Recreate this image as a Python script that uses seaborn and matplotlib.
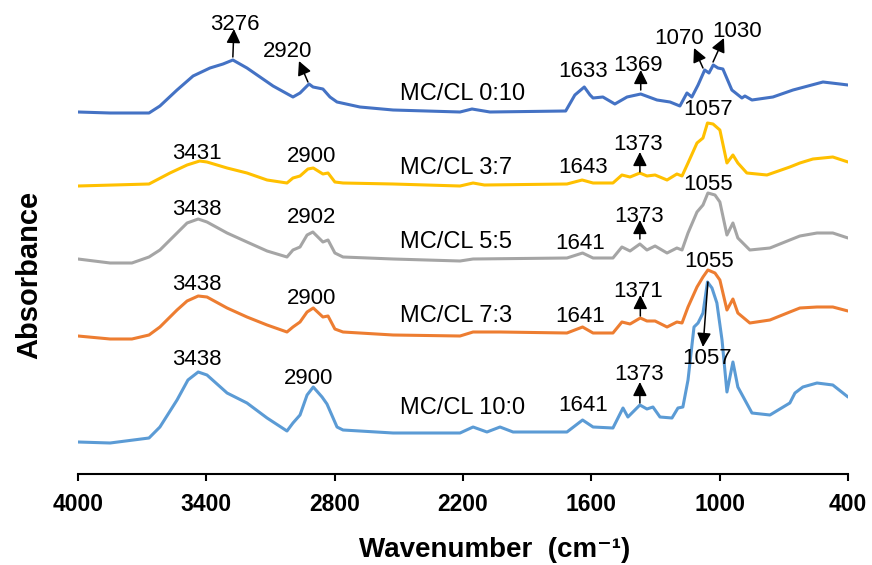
import matplotlib
matplotlib.use("Agg")
import matplotlib.pyplot as plt
import numpy as np
import pandas as pd
import seaborn as sns

# FTIR spectra (wavenumber in cm-1, relative absorbance above each trace's own baseline)
wn_0_10 = [4000, 3850, 3668, 3617, 3537, 3462, 3383, 3322, 3276, 3210,
           3149, 3088, 2995, 2962, 2920, 2901, 2855, 2822, 2789, 2682,
           2527, 2214, 2158, 2074, 1720, 1677, 1633, 1606, 1592, 1546,
           1490, 1433, 1369, 1293, 1232, 1186, 1153, 1130, 1101, 1070,
           1050, 1030, 1008, 985, 943, 896, 882, 849, 751, 657,
           517, 438, 400]
ab_0_10 = [0.00, -0.01, -0.01, 0.06, 0.22, 0.36, 0.44, 0.48, 0.52, 0.44,
           0.35, 0.26, 0.15, 0.19, 0.28, 0.25, 0.23, 0.15, 0.10, 0.05,
           0.02, 0.00, 0.03, 0.00, 0.01, 0.17, 0.25, 0.17, 0.14, 0.15,
           0.08, 0.15, 0.18, 0.12, 0.10, 0.06, 0.19, 0.15, 0.27, 0.42,
           0.39, 0.47, 0.44, 0.43, 0.22, 0.14, 0.16, 0.12, 0.15, 0.22,
           0.30, 0.28, 0.27]

wn_3_7 = [4000, 3668, 3570, 3490, 3431, 3397, 3303, 3210, 3116, 3023,
          2995, 2962, 2925, 2900, 2855, 2831, 2799, 2761, 2527, 2214,
          2153, 2100, 1714, 1643, 1592, 1499, 1457, 1419, 1373, 1340,
          1302, 1246, 1200, 1176, 1148, 1106, 1078, 1057, 1031, 999,
          966, 938, 915, 873, 779, 672, 625, 564, 471, 400]
ab_3_7 = [0.00, 0.02, 0.13, 0.21, 0.25, 0.24, 0.18, 0.13, 0.06, 0.03,
          0.08, 0.10, 0.17, 0.18, 0.12, 0.13, 0.04, 0.03, 0.02, 0.00,
          0.03, 0.01, 0.02, 0.06, 0.03, 0.03, 0.11, 0.09, 0.13, 0.10,
          0.11, 0.06, 0.12, 0.10, 0.23, 0.43, 0.48, 0.63, 0.62, 0.56,
          0.23, 0.31, 0.23, 0.13, 0.11, 0.19, 0.23, 0.27, 0.29, 0.24]

wn_5_5 = [4000, 3850, 3748, 3668, 3617, 3537, 3490, 3438, 3397, 3303,
          3210, 3116, 3023, 2995, 2962, 2929, 2902, 2855, 2831, 2799,
          2761, 2527, 2214, 2153, 1714, 1641, 1592, 1499, 1457, 1419,
          1373, 1340, 1302, 1246, 1200, 1176, 1148, 1106, 1078, 1055,
          1022, 999, 966, 938, 915, 859, 765, 672, 625, 545,
          471, 400]
ab_5_5 = [0.00, -0.04, -0.04, 0.02, 0.09, 0.26, 0.36, 0.40, 0.37, 0.26,
          0.17, 0.08, 0.02, 0.09, 0.12, 0.24, 0.27, 0.17, 0.19, 0.06,
          0.02, 0.00, -0.02, 0.00, 0.01, 0.06, 0.01, 0.01, 0.12, 0.08,
          0.15, 0.09, 0.13, 0.06, 0.11, 0.09, 0.26, 0.47, 0.54, 0.66,
          0.64, 0.57, 0.24, 0.36, 0.21, 0.09, 0.11, 0.19, 0.23, 0.26,
          0.26, 0.21]

wn_7_3 = [4000, 3850, 3748, 3668, 3617, 3537, 3490, 3438, 3397, 3303,
          3210, 3116, 3023, 2995, 2962, 2929, 2900, 2855, 2831, 2799,
          2761, 2527, 2214, 2153, 2027, 1714, 1641, 1592, 1499, 1457,
          1419, 1371, 1340, 1302, 1246, 1200, 1176, 1148, 1106, 1078,
          1055, 1022, 999, 966, 938, 915, 859, 765, 672, 625,
          545, 471, 400]
ab_7_3 = [0.00, -0.03, -0.03, 0.01, 0.09, 0.26, 0.35, 0.40, 0.39, 0.28,
          0.19, 0.11, 0.04, 0.09, 0.14, 0.24, 0.28, 0.19, 0.20, 0.07,
          0.04, 0.01, 0.00, 0.04, 0.04, 0.03, 0.09, 0.03, 0.03, 0.14,
          0.12, 0.18, 0.15, 0.15, 0.09, 0.14, 0.13, 0.29, 0.49, 0.59,
          0.66, 0.63, 0.56, 0.26, 0.37, 0.23, 0.13, 0.16, 0.24, 0.28,
          0.29, 0.29, 0.25]

wn_10_0 = [4000, 3850, 3668, 3617, 3537, 3486, 3438, 3397, 3303, 3210,
           3116, 3023, 2995, 2962, 2929, 2900, 2859, 2836, 2789, 2761,
           2527, 2214, 2153, 2088, 2027, 1966, 1714, 1641, 1592, 1499,
           1452, 1429, 1373, 1340, 1312, 1279, 1223, 1195, 1172, 1148,
           1120, 1101, 1078, 1057, 1036, 1013, 989, 966, 938, 915,
           882, 849, 765, 672, 648, 611, 545, 471, 400]
ab_10_0 = [0.00, -0.01, 0.04, 0.15, 0.42, 0.62, 0.70, 0.67, 0.49, 0.39,
           0.24, 0.11, 0.19, 0.27, 0.47, 0.55, 0.45, 0.38, 0.15, 0.12,
           0.09, 0.09, 0.15, 0.10, 0.15, 0.10, 0.10, 0.22, 0.15, 0.14,
           0.34, 0.25, 0.37, 0.33, 0.35, 0.25, 0.24, 0.34, 0.35, 0.62,
           1.15, 1.19, 1.29, 1.60, 1.54, 1.39, 1.02, 0.50, 0.80, 0.55,
           0.42, 0.29, 0.27, 0.39, 0.49, 0.55, 0.59, 0.57, 0.45]

samples = ["MC/CL 0:10", "MC/CL 3:7", "MC/CL 5:5", "MC/CL 7:3", "MC/CL 10:0"]
spectra = {
    "MC/CL 0:10": (wn_0_10, ab_0_10),
    "MC/CL 3:7": (wn_3_7, ab_3_7),
    "MC/CL 5:5": (wn_5_5, ab_5_5),
    "MC/CL 7:3": (wn_7_3, ab_7_3),
    "MC/CL 10:0": (wn_10_0, ab_10_0),
}
x_ticks = [4000, 3400, 2800, 2200, 1600, 1000, 400]

# vertical stacking of the traces
stack_offset = {"MC/CL 0:10": 3.62, "MC/CL 3:7": 2.88, "MC/CL 5:5": 2.15,
                "MC/CL 7:3": 1.38, "MC/CL 10:0": 0.32}
colors = {"MC/CL 0:10": "#4472C4", "MC/CL 3:7": "#FFC000", "MC/CL 5:5": "#A5A5A5",
          "MC/CL 7:3": "#ED7D31", "MC/CL 10:0": "#5B9BD5"}

# peak labels: (text, x, y) and optional arrow (tail, tip)
peak_labels = [
    ("3276", 3266, 4.435, ((3276, 4.17), (3271, 4.45))),
    ("2920", 3018, 4.17, ((2925, 3.92), (2967, 4.13))),
    ("1633", 1639, 3.97, None),
    ("1369", 1382, 4.03, ((1369, 3.84), (1369, 4.04))),
    ("1070", 1190, 4.30, ((1078, 4.06), (1120, 4.26))),
    ("1030", 919, 4.37, ((1031, 4.12), (980, 4.36))),
    ("3431", 3444, 3.15, None),
    ("2900", 2906, 3.12, None),
    ("1643", 1639, 3.01, None),
    ("1373", 1382, 3.24, ((1373, 3.02), (1373, 3.22))),
    ("1057", 1055, 3.59, None),
    ("3438", 3444, 2.59, None),
    ("2902", 2906, 2.51, None),
    ("1641", 1653, 2.25, None),
    ("1373", 1377, 2.52, ((1373, 2.35), (1373, 2.54))),
    ("1055", 1055, 2.84, None),
    ("3438", 3444, 1.84, None),
    ("2900", 2906, 1.70, None),
    ("1641", 1653, 1.52, None),
    ("1371", 1382, 1.77, ((1371, 1.58), (1371, 1.79))),
    ("1055", 1050, 2.07, None),
    ("3438", 3444, 1.09, None),
    ("2900", 2920, 0.90, None),
    ("1641", 1639, 0.63, None),
    ("1373", 1377, 0.94, ((1373, 0.71), (1373, 0.92))),
    ("1057", 1059, 1.10, ((1055, 1.92), (1078, 1.27))),
]
sample_label_pos = {"MC/CL 0:10": 3.74, "MC/CL 3:7": 3.00, "MC/CL 5:5": 2.26,
                    "MC/CL 7:3": 1.52, "MC/CL 10:0": 0.60}

rows = []
for s in samples:
    wn, ab = spectra[s]
    for w, a in zip(wn, ab):
        rows.append({"wavenumber": w, "absorbance": a + stack_offset[s], "sample": s})
df = pd.DataFrame(rows)

sns.set_theme(style="white")
plt.rcParams["font.family"] = ["Liberation Sans", "DejaVu Sans"]
plt.rcParams["text.color"] = "black"
plt.rcParams["axes.labelcolor"] = "black"

fig = plt.figure(figsize=(8.72, 5.65), dpi=100)
ax = fig.add_axes([78 / 872, 91 / 565, 770 / 872, 464 / 565])

sns.lineplot(data=df, x="wavenumber", y="absorbance", hue="sample",
             hue_order=samples, palette=colors, estimator=None, sort=True,
             linewidth=2.2, legend=False, ax=ax)
for line in ax.get_lines():
    line.set_solid_joinstyle("round")
    line.set_solid_capstyle("round")

ax.set_xlim(4000, 400)
ax.set_ylim(0, 4.64)
ax.set_xticks(x_ticks)
ax.set_xticklabels([str(t) for t in x_ticks], fontsize=16.5, fontweight="bold")
ax.set_yticks([])
for side in ("left", "top", "right"):
    ax.spines[side].set_visible(False)
ax.spines["bottom"].set_linewidth(1.5)
ax.spines["bottom"].set_color("black")
ax.tick_params(axis="x", direction="out", length=5, width=1.5, color="black",
               pad=9, bottom=True, labelcolor="black")

ax.set_xlabel("Wavenumber  (cm\u207b\u00b9)", fontsize=20, fontweight="bold",
              color="black")
ax.xaxis.set_label_coords(0.5416, -0.136)
ax.set_ylabel("Absorbance", fontsize=21, fontweight="bold", color="black")
ax.yaxis.set_label_coords(-0.045, 0.43)

for s in samples:
    ax.text(2495, sample_label_pos[s], s, fontsize=17, ha="left", va="baseline",
            color="black")

arrow_kw = dict(arrowstyle="-|>,head_length=0.6,head_width=0.3", color="black",
                lw=1.1, mutation_scale=14, shrinkA=0, shrinkB=0)
for text, tx, ty, arrow in peak_labels:
    ax.text(tx, ty, text, fontsize=16, ha="center", va="baseline", color="black")
    if arrow is not None:
        tail, tip = arrow
        ax.annotate("", xy=tip, xytext=tail, arrowprops=arrow_kw)

fig.savefig("out.png", dpi=100, facecolor="white")
